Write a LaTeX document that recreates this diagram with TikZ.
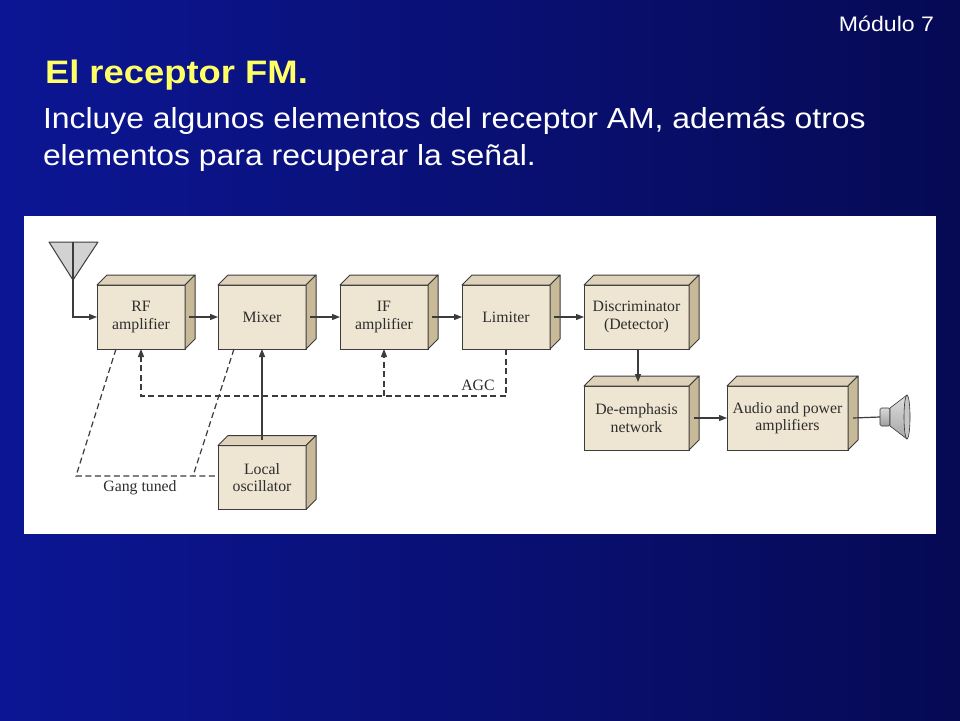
\documentclass[tikz,border=0pt]{standalone}
\usepackage{fontspec}
\usepackage{graphicx}
\setmainfont{Liberation Serif}
\newfontfamily\arialf{Liberation Sans}
\usetikzlibrary{arrows.meta,calc}
\definecolor{bgA}{RGB}{12,22,148}
\definecolor{bgB}{RGB}{6,10,84}
\definecolor{titley}{RGB}{255,255,102}
\definecolor{boxfront}{RGB}{238,230,210}
\definecolor{boxtop}{RGB}{222,211,186}
\definecolor{boxside}{RGB}{200,186,152}
\definecolor{linec}{RGB}{60,60,60}
\definecolor{txtc}{RGB}{45,45,45}
\begin{document}
\begin{tikzpicture}[x=1pt,y=-1pt,
  blk/.style={draw=linec, line width=1pt, fill=boxfront, minimum height=64pt,
    inner sep=0pt, outer sep=0pt, align=center, text=txtc,
    font=\fontsize{15.8}{17.6}\selectfont},
  conn/.style={draw=linec, line width=1.2pt},
  arr/.style={conn, -{Triangle[length=8pt,width=6pt]}},
  dsh/.style={conn, dash pattern=on 6pt off 3.5pt},
  lbl/.style={text=txtc, font=\fontsize{15.8}{17.6}\selectfont, inner sep=0pt},
  slidetxt/.style={inner sep=0pt, outer sep=0pt},
]
\useasboundingbox (0,0) rectangle (960,720);
% background
\shade[left color=bgA, right color=bgB] (0,0) rectangle (960,720);

% slide texts
\node[slidetxt, anchor=base east, text=white] (mod) at (934,31.5)
  {\scalebox{1.1}[1]{\arialf\fontsize{21}{25}\selectfont Módulo 7}};
\node[slidetxt, anchor=base west, text=titley] (title) at (45,83.3)
  {\scalebox{1.12}[1]{\arialf\bfseries\fontsize{32.5}{38}\selectfont El receptor FM.}};
\node[slidetxt, anchor=base west, text=white] (line1) at (43,128.3)
  {\scalebox{1.1}[1]{\arialf\fontsize{29}{34}\selectfont Incluye algunos elementos del receptor AM, además otros}};
\node[slidetxt, anchor=base west, text=white] (line2) at (43,165.7)
  {\scalebox{1.1}[1]{\arialf\fontsize{29}{34}\selectfont elementos para recuperar la señal.}};

% white panel
\fill[white] (24,216) rectangle (936,534);

% blocks
\node[blk, minimum width=88pt]  (rf)   at (141,317)   {RF\\amplifier};
\node[blk, minimum width=88pt]  (mix)  at (262,317)   {Mixer};
\node[blk, minimum width=88pt]  (ifa)  at (384,317)   {IF\\amplifier};
\node[blk, minimum width=88pt]  (lim)  at (506,317)   {Limiter};
\node[blk, minimum width=105pt] (disc) at (636.5,317) {Discriminator\\(Detector)};
\node[blk, minimum width=105pt] (de)   at (636.5,418) {De-emphasis\\network};
\node[blk, minimum width=121pt] (aud)  at (787.5,418) {Audio and power\\amplifiers};
\node[blk, minimum width=88pt]  (lo)   at (262,477.5) {Local\\oscillator};

\foreach \n in {rf,mix,ifa,lim,disc,de,aud,lo}{
  \filldraw[fill=boxtop, draw=linec, line width=1pt, line join=round]
    (\n.north west) -- ++(10,-10) -- ($(\n.north east)+(10,-10)$) -- (\n.north east) -- cycle;
  \filldraw[fill=boxside, draw=linec, line width=1pt, line join=round]
    (\n.north east) -- ++(10,-10) -- ($(\n.south east)+(10,-10)$) -- (\n.south east) -- cycle;
}

% antenna
\coordinate (antA) at (73,280);
\coordinate (antL) at (49,242);
\coordinate (antR) at (98,242);
\coordinate (antM) at (73,242);
\filldraw[fill=gray!35, draw=linec, line width=1pt, line join=round] (antL) -- (antR) -- (antA) -- cycle;
\draw[conn] (antM) -- (antA);
\draw[arr] (antA) |- (rf.west);

% signal chain
\draw[arr] ($(rf.east)+(4,0)$) -- (mix.west);
\draw[arr] ($(mix.east)+(4,0)$) -- (ifa.west);
\draw[arr] ($(ifa.east)+(4,0)$) -- (lim.west);
\draw[arr] ($(lim.east)+(4,0)$) -- (disc.west);
\draw[arr] ($(disc.south)+(1.5,0)$) -- ($(de.north)+(1.5,-4)$);
\draw[arr] ($(de.east)+(5,0)$) -- (aud.west);
\draw[arr] ($(lo.north)+(0,-6)$) -- (mix.south);

% speaker
\coordinate (spk) at (880,417);
\draw[conn] ($(aud.east)+(5,0)$) -- (spk);
\shade[top color=gray!30, bottom color=gray!75, draw=gray!40!black, line width=0.6pt, rounded corners=1.5pt]
  (880,408) rectangle (890,426);
\shade[top color=gray!25, bottom color=gray!70, draw=gray!40!black, line width=0.6pt, line join=round]
  (890,408) -- (907,395) -- (907,439) -- (890,426) -- cycle;
\filldraw[fill=gray!45, draw=gray!40!black, line width=0.6pt] (907,417) ellipse (3pt and 22pt);

% AGC
\coordinate (agcy) at (0,396);
\draw[dsh, -{Triangle[length=8pt,width=6pt]}] (lim.south) -- (lim.south |- agcy) -| (rf.south);
\draw[dsh, -{Triangle[length=8pt,width=6pt]}] (ifa.south |- agcy) -- (ifa.south);
\node[lbl] (agc) at (478,385) {AGC};

% gang tuned
\coordinate (g1) at (76,476);
\coordinate (g2) at (193,476);
\draw[dsh] ($(rf.south west)+(19,0)$) -- (g1) -- (lo.west |- g1);
\draw[dsh] ($(mix.south west)+(16,0)$) -- (g2);
\node[lbl] (gang) at (140,487.5) {Gang tuned};
\end{tikzpicture}
\end{document}
